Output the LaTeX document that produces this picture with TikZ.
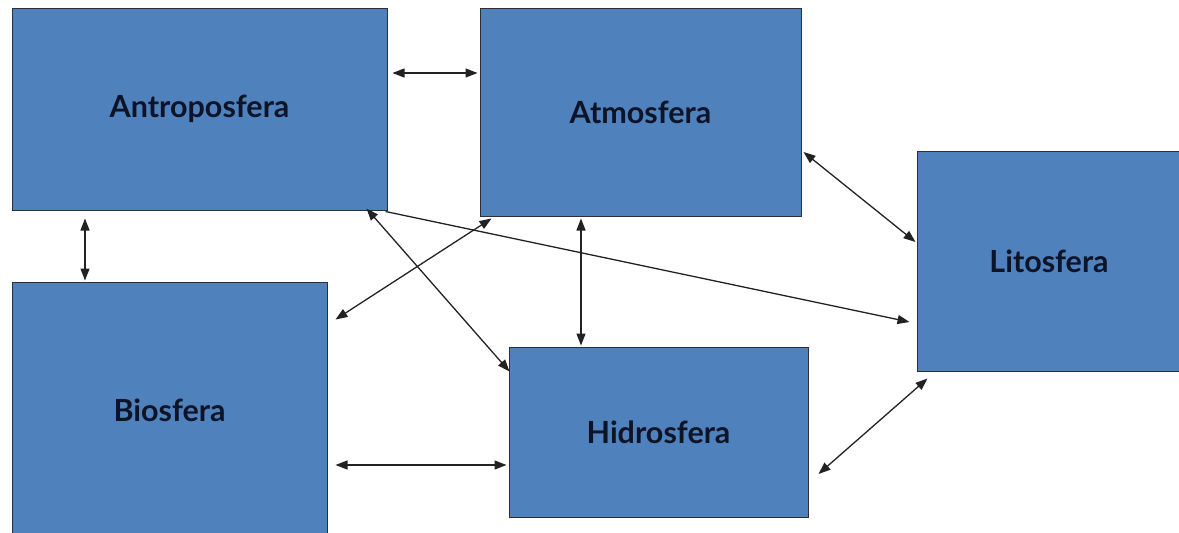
\documentclass[tikz,border=0pt]{standalone}
\usepackage{fontspec}
\setmainfont{Lato}
\usetikzlibrary{arrows.meta}
\definecolor{boxblue}{HTML}{4F81BD}
\definecolor{boxline}{HTML}{2A2F3A}
\definecolor{txt}{HTML}{0E1428}
\definecolor{arrc}{HTML}{222222}
\begin{document}
\begin{tikzpicture}[x=1pt,y=-1pt,
  sphere/.style={draw=boxline,line width=1pt,fill=boxblue,inner sep=0pt,
    font=\fontsize{30.5}{33}\selectfont\bfseries,text=txt},
  twoway/.style={draw=arrc,line width=1.3pt,{Triangle[length=12pt,width=9pt]}-{Triangle[length=12pt,width=9pt]}},
  oneway/.style={draw=arrc,line width=1.3pt,-{Triangle[length=12pt,width=9pt]}}]
\useasboundingbox (0,0) rectangle (1179,533);
\node[sphere,minimum width=375pt,minimum height=202pt] (antro) at (199.5,109) {Antroposfera};
\node[sphere,minimum width=321pt,minimum height=208pt] (atmo) at (640.5,112) {Atmosfera};
\node[sphere,minimum width=264pt,minimum height=220pt] (lito) at (1049,261) {Litosfera};
\node[sphere,minimum width=315pt,minimum height=256pt] (bio) at (169.5,410) {Biosfera};
\node[sphere,minimum width=299pt,minimum height=170pt] (hidro) at (658.5,432) {Hidrosfera};
\draw[twoway] ([shift={(5,-36)}]antro.east) -- ([shift={(-2,-39)}]atmo.west);
\draw[twoway] ([shift={(-114.5,8)}]antro.south) -- ([shift={(-84.5,-1)}]bio.north);
\draw[twoway] ([shift={(12,2)}]atmo.south west) -- ([shift={(8,38)}]bio.north east);
\draw[twoway] ([shift={(-21,-2)}]antro.south east) -- ([shift={(1,25)}]hidro.north west);
\draw[oneway] ([shift={(-2,1)}]antro.south east) -- ([shift={(-7,61)}]lito.west);
\draw[twoway] ([shift={(-59.5,2)}]atmo.south) -- ([shift={(-77.5,-1)}]hidro.north);
\draw[twoway] ([shift={(2,40)}]atmo.east) -- ([shift={(-1,-19)}]lito.west);
\draw[twoway] ([shift={(8,55)}]bio.east) -- ([shift={(-2,33)}]hidro.west);
\draw[twoway] ([shift={(11,7)}]lito.south west) -- ([shift={(10,42)}]hidro.east);
\end{tikzpicture}
\end{document}
